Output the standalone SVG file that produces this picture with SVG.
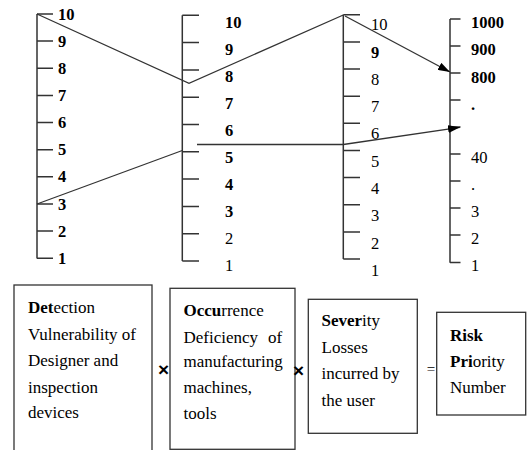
<svg xmlns="http://www.w3.org/2000/svg" width="527" height="450" viewBox="0 0 527 450">
<defs>
<style>
.ax{stroke:#333;stroke-width:1.5;fill:none}
.cn{stroke:#333;stroke-width:1.3;fill:none}
.lb{font-family:"Liberation Serif","Times New Roman",serif;font-size:16.5px;fill:#000}
.b{font-weight:bold}
.bx{fill:#fff;stroke:#333;stroke-width:1.3}
.tx{font-family:"Liberation Serif","Times New Roman",serif;font-size:17px;fill:#000}
.op{font-family:"Liberation Sans",Arial,sans-serif;font-size:19px;font-weight:bold;fill:#000;text-anchor:middle}
</style>
<marker id="ah" viewBox="0 0 12 8" refX="12" refY="4" markerWidth="12" markerHeight="8" markerUnits="userSpaceOnUse" orient="auto">
<path d="M0,0 L12,4 L0,8 Z" fill="#000"/>
</marker>
</defs>

<g id="axis-detection">
<path class="ax" d="M37,14 V258.5 M37,14 H53 M37,41.1 H53 M37,68.3 H53 M37,95.4 H53 M37,122.6 H53 M37,149.7 H53 M37,176.8 H53 M37,204 H53 M37,231.1 H53 M37,258.3 H53"/>
<text class="lb b" x="58" y="20">10</text>
<text class="lb b" x="58" y="47">9</text>
<text class="lb b" x="58" y="74">8</text>
<text class="lb b" x="58" y="101">7</text>
<text class="lb b" x="58" y="128">6</text>
<text class="lb b" x="58" y="155">5</text>
<text class="lb b" x="58" y="182">4</text>
<text class="lb b" x="58" y="210">3</text>
<text class="lb b" x="58" y="237">2</text>
<text class="lb b" x="58" y="264">1</text>
</g>

<g id="axis-occurrence">
<path class="ax" d="M182.3,15.3 V261 M182.3,15.3 H199 M182.3,42.6 H199 M182.3,69.9 H199 M182.3,97.2 H199 M182.3,124.5 H199 M182.3,151.8 H199 M182.3,179.1 H199 M182.3,206.4 H199 M182.3,233.7 H199 M182.3,261 H199"/>
<text class="lb b" x="225" y="28">10</text>
<text class="lb b" x="225" y="55">9</text>
<text class="lb b" x="225" y="82">8</text>
<text class="lb b" x="225" y="109">7</text>
<text class="lb b" x="225" y="136">6</text>
<text class="lb b" x="225" y="163">5</text>
<text class="lb b" x="225" y="190">4</text>
<text class="lb b" x="225" y="217">3</text>
<text class="lb" x="225" y="244">2</text>
<text class="lb" x="225" y="271">1</text>
</g>

<g id="axis-severity">
<path class="ax" d="M343.3,14.7 V259 M343.3,14.7 H360 M343.3,41.9 H360 M343.3,69 H360 M343.3,96.2 H360 M343.3,123.3 H360 M343.3,150.5 H360 M343.3,177.6 H360 M343.3,204.8 H360 M343.3,231.9 H360 M343.3,259 H360"/>
<text class="lb" x="371" y="30">10</text>
<text class="lb b" x="371" y="57.5">9</text>
<text class="lb" x="371" y="85">8</text>
<text class="lb" x="371" y="112">7</text>
<text class="lb" x="371" y="139">6</text>
<text class="lb" x="371" y="166.5">5</text>
<text class="lb" x="371" y="194">4</text>
<text class="lb" x="371" y="221">3</text>
<text class="lb" x="371" y="248.5">2</text>
<text class="lb" x="371" y="275.5">1</text>
</g>

<g id="axis-rpn">
<path class="ax" d="M450,19 V262.7 M450,19 H460.5 M450,46 H460.5 M450,73 H460.5 M450,100 H460.5 M450,127 H460.5 M450,154 H460.5 M450,181 H460.5 M450,208 H460.5 M450,235 H460.5 M450,262.5 H460.5"/>
<text class="lb b" x="471" y="28">1000</text>
<text class="lb b" x="471" y="55">900</text>
<text class="lb b" x="471" y="82.5">800</text>
<text class="lb b" x="471" y="110">.</text>
<text class="lb" x="471" y="163">40</text>
<text class="lb" x="471" y="190">.</text>
<text class="lb" x="471" y="217">3</text>
<text class="lb" x="471" y="244">2</text>
<text class="lb" x="471" y="271">1</text>
</g>

<g id="connectors">
<polyline class="cn" points="37,14 189,83.3 343.3,15"/>
<line class="cn" x1="345" y1="16" x2="450" y2="72" marker-end="url(#ah)"/>
<line class="cn" x1="37" y1="204" x2="182.3" y2="150.5"/>
<line class="cn" x1="197" y1="144.5" x2="343.3" y2="144.5"/>
<line class="cn" x1="343.3" y1="144.5" x2="460" y2="127.3" marker-end="url(#ah)"/>
</g>

<g id="detection">
<rect class="bx" x="14" y="285" width="138" height="170"/>
<text class="tx" x="28" y="313"><tspan font-weight="bold">Det</tspan>ection</text>
<text class="tx" x="28" y="340">Vulnerability of</text>
<text class="tx" x="28" y="366">Designer and</text>
<text class="tx" x="28" y="392.5">inspection</text>
<text class="tx" x="28" y="418">devices</text>
</g>

<text class="op" x="163.5" y="376">×</text>

<g id="occurrence">
<rect class="bx" x="170" y="288.3" width="125" height="161"/>
<text class="tx" x="183.5" y="316"><tspan font-weight="bold">Occu</tspan>rrence</text>
<text class="tx" x="183.5" y="343">Deficiency<tspan x="268">of</tspan></text>
<text class="tx" x="183.5" y="367">manufacturing</text>
<text class="tx" x="183.5" y="393">machines,</text>
<text class="tx" x="183.5" y="419">tools</text>
</g>

<text class="op" x="298.5" y="376.5">×</text>

<g id="severity">
<rect class="bx" x="308.3" y="299.3" width="109" height="134"/>
<text class="tx" x="321.5" y="326"><tspan font-weight="bold">Sever</tspan>ity</text>
<text class="tx" x="321.5" y="352.5">Losses</text>
<text class="tx" x="321.5" y="379">incurred by</text>
<text class="tx" x="321.5" y="406">the user</text>
</g>

<text x="431" y="374" text-anchor="middle" font-family="Liberation Serif, serif" font-size="15" fill="#000">=</text>

<g id="rpn">
<rect class="bx" x="436.7" y="312.3" width="89" height="102.7"/>
<text class="tx" x="450" y="340.5" font-weight="bold">Risk</text>
<text class="tx" x="450" y="367"><tspan font-weight="bold">Pri</tspan>ority</text>
<text class="tx" x="450" y="393">Number</text>
</g>
</svg>
